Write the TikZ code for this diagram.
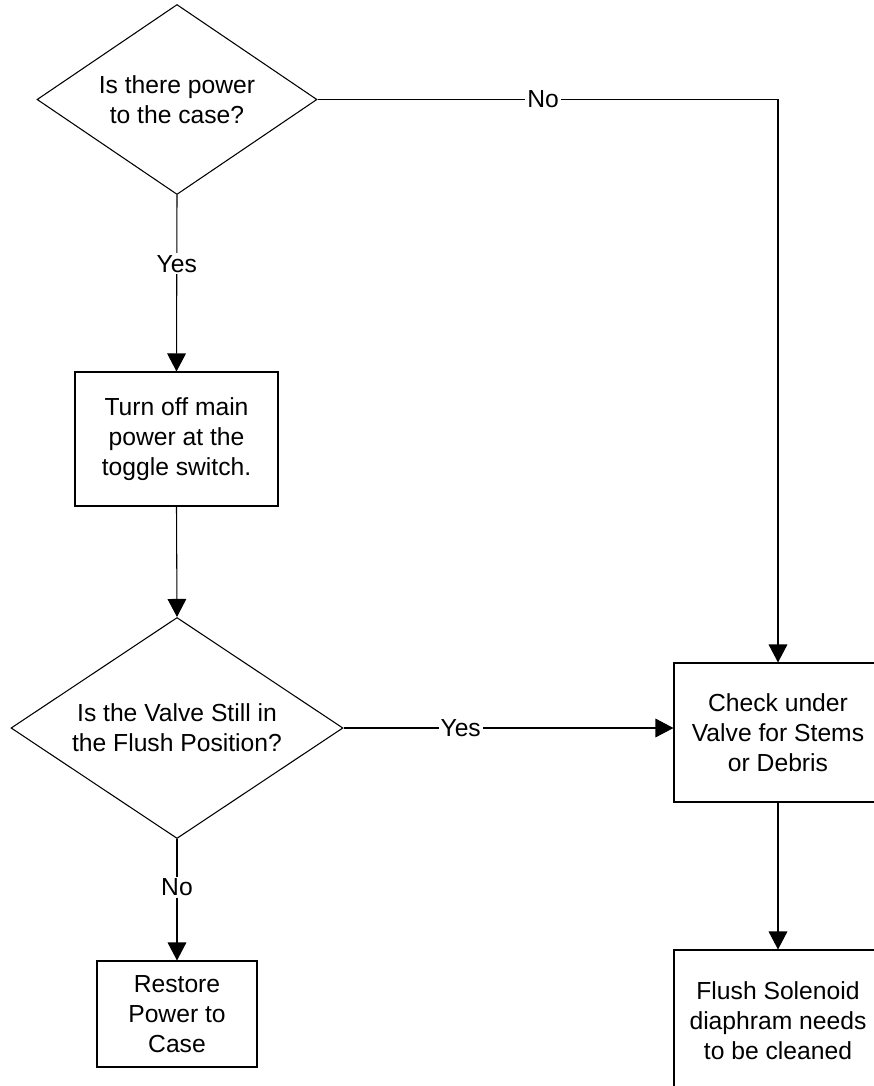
\documentclass[tikz,border=0pt]{standalone}
\usepackage{fontspec}
\setmainfont{Liberation Sans}
\usetikzlibrary{shapes.geometric,arrows.meta}
\begin{document}
\begin{tikzpicture}[x=0.75pt,y=-0.75pt,
  every node/.style={font=\fontsize{18.5}{22.5}\selectfont},
  decision/.style={draw,line width=0.8pt,diamond,inner sep=0pt,align=center},
  procbox/.style={draw,line width=0.8pt,rectangle,inner sep=0pt,align=center},
  arr/.style={line width=0.8pt,-{Triangle[length=13.5pt,width=14pt]}},
  lbl/.style={fill=white,inner sep=1.5pt}]
\useasboundingbox (0,0) rectangle (874,1086);
\node[decision,shape aspect=1.474,minimum width=210pt,minimum height=142.5pt] (d1) at (177,99.5) {Is there power\\to the case?};
\node[procbox,minimum width=152.25pt,minimum height=100.5pt] (b1) at (176.5,439) {Turn off main\\power at the\\toggle switch.};
\node[decision,shape aspect=1.502,minimum width=249pt,minimum height=165.75pt] (d2) at (177,728) {Is the Valve Still in\\the Flush Position?};
\node[procbox,minimum width=120pt,minimum height=79.5pt] (rest) at (177,1014) {Restore\\Power to\\Case};
\node[procbox,minimum width=156pt,minimum height=104.25pt] (check) at (778,732.5) {Check under\\Valve for Stems\\or Debris};
\node[procbox,minimum width=156pt,minimum height=106.5pt] (flush) at (778,1021) {Flush Solenoid\\diaphram needs\\to be cleaned};
\draw[arr] (d1.east) -| node[lbl,pos=0.245]{No} (check.north);
\draw[arr] (d1.south) -- node[lbl,pos=0.39]{Yes} (b1.north);
\draw[arr] (b1.south) -- (d2.north);
\draw[arr] (d2.east) -- node[lbl,pos=0.355]{Yes} (d2.east -| check.west);
\draw[arr] (d2.south) -- node[lbl,pos=0.4]{No} (rest.north);
\draw[arr] (check.south) -- (flush.north);
\end{tikzpicture}
\end{document}
